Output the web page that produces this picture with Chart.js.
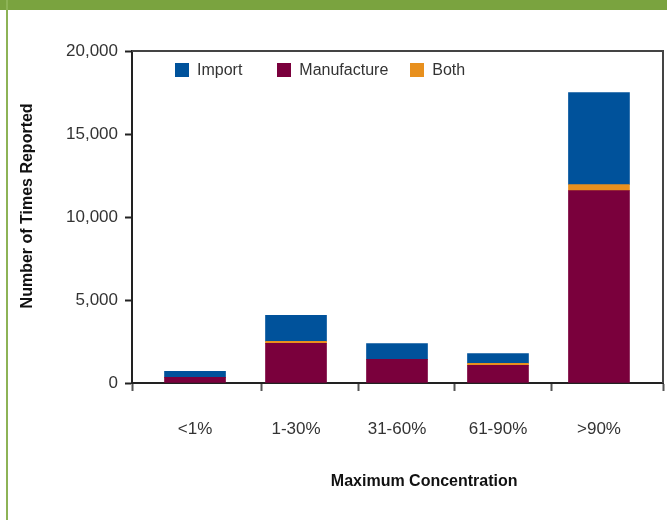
<!DOCTYPE html>
<html>
<head>
<meta charset="utf-8">
<script src="https://cdn.jsdelivr.net/npm/chart.js@4"></script>
<style>
  body { margin: 0; background: #fff; }
  #wrap { position: relative; width: 667px; height: 520px; overflow: hidden; }
  #topbar { position: absolute; left: 0; top: 0; width: 667px; height: 10px; background: #7aa33f; }
  #leftbar { position: absolute; left: 6px; top: 0; width: 2px; height: 520px; background: #8db356; }
  #legend { position: absolute; left: 175px; top: 61px; display: flex; font: 16px "Liberation Sans", Arial, sans-serif; color: #333; }
  #legend .item { display: flex; align-items: center; line-height: 18px; }
  #legend .box { width: 14px; height: 14px; margin-right: 8px; }
  canvas { position: absolute; left: 0; top: 0; }
</style>
</head>
<body>
<div id="wrap">
  <canvas id="chart" width="667" height="520"></canvas>
  <div id="topbar"></div>
  <div id="leftbar"></div>
  <div id="legend"></div>
</div>
<script>
const categories = ['<1%', '1-30%', '31-60%', '61-90%', '>90%'];
const manufacture = [340, 2390, 1420, 1060, 11590];
const both = [0, 120, 0, 120, 360];
const importVals = [360, 1570, 950, 590, 5550];
const yTicks = [0, 5000, 10000, 15000, 20000];
// x axis runs a bit wider than the bars, tick marks sit between them
const xMin = -0.624, xMax = 4.634;
const xTickMarks = [-0.624, 0.663, 1.614, 2.574, 3.525, 4.634];

const colors = { Import: '#00529b', Manufacture: '#7a003c', Both: '#e8901e' };
const font = '"Liberation Sans", Arial, sans-serif';

function points(values) {
    return values.map((v, i) => ({ x: i, y: v }));
}

const datasets = [
    { label: 'Manufacture', data: points(manufacture), backgroundColor: colors.Manufacture },
    { label: 'Both', data: points(both), backgroundColor: colors.Both },
    { label: 'Import', data: points(importVals), backgroundColor: colors.Import }
];

// legend in the picture's order
var legend = document.getElementById('legend');
var gaps = [35, 22, 0];
['Import', 'Manufacture', 'Both'].forEach((name, i) => {
    var item = document.createElement('div');
    item.className = 'item';
    item.style.marginRight = gaps[i] + 'px';
    item.innerHTML = '<span class="box" style="background:' + colors[name] + '"></span>' + name;
    legend.appendChild(item);
});

const frame = {
    id: 'frame',
    afterDraw(chart) {
        const { ctx, chartArea: a } = chart;
        ctx.save();
        ctx.strokeStyle = '#444';
        ctx.lineWidth = 2;
        ctx.beginPath();
        ctx.moveTo(a.left, a.top);
        ctx.lineTo(a.right, a.top);
        ctx.lineTo(a.right, a.bottom);
        ctx.stroke();
        ctx.restore();
    }
};

function isCategoryTick(c) {
    return c.tick && Number.isInteger(c.tick.value);
}

const nb = n => '\u00a0'.repeat(n);

new Chart(document.getElementById('chart'), {
    type: 'bar',
    data: { datasets: datasets },
    plugins: [frame],
    options: {
        responsive: false,
        animation: false,
        layout: { padding: { top: 51, right: 4, left: 0, bottom: 0 } },
        datasets: { bar: { barThickness: 61, borderWidth: 0 } },
        plugins: { legend: { display: false }, tooltip: { enabled: false } },
        scales: {
            x: {
                type: 'linear',
                stacked: true,
                offset: false,
                min: xMin,
                max: xMax,
                afterBuildTicks: scale => {
                    const vals = xTickMarks.concat(categories.map((c, i) => i)).sort((a, b) => a - b);
                    scale.ticks = vals.map(v => ({ value: v }));
                },
                afterFit: scale => {
                    scale.height = 137;
                    scale.paddingLeft = 0;
                    scale.paddingRight = 0;
                },
                border: { color: '#222', width: 2 },
                grid: {
                    offset: false,
                    drawOnChartArea: false,
                    tickLength: 8,
                    tickWidth: 2,
                    tickColor: c => isCategoryTick(c) ? 'rgba(0,0,0,0)' : '#555'
                },
                ticks: {
                    autoSkip: false,
                    maxRotation: 0,
                    padding: 28,
                    color: '#333',
                    font: { family: font, size: 17 },
                    callback: v => Number.isInteger(v) ? categories[v] : ''
                },
                title: {
                    display: true,
                    text: nb(12) + 'Maximum Concentration',
                    color: '#111',
                    font: { family: font, size: 16, weight: 'bold' },
                    padding: { top: 0, bottom: 29 }
                }
            },
            y: {
                stacked: true,
                min: 0,
                max: 20000,
                afterBuildTicks: scale => { scale.ticks = yTicks.map(v => ({ value: v })); },
                afterFit: scale => { scale.width = 132; },
                border: { color: '#222', width: 2 },
                grid: { drawOnChartArea: false, tickLength: 7, tickWidth: 2, tickColor: '#222' },
                ticks: {
                    padding: 7,
                    color: '#333',
                    font: { family: font, size: 17 },
                    callback: v => v.toLocaleString('en-US')
                },
                title: {
                    display: true,
                    text: nb(5) + 'Number of Times Reported',
                    color: '#111',
                    font: { family: font, size: 16, weight: 'bold' },
                    padding: { top: 18, bottom: 0 }
                }
            }
        }
    }
});
</script>
</body>
</html>
